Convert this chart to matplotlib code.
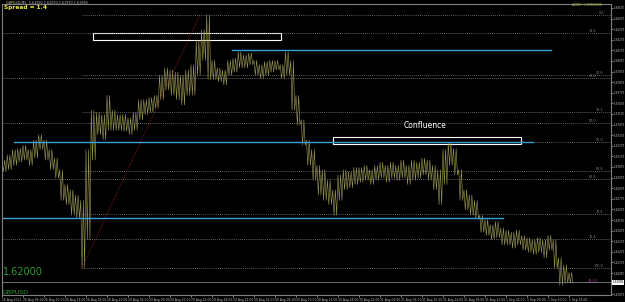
import numpy as np
import matplotlib.pyplot as plt

# GBPUSD hourly high / low, trading hours counted from 26 Aug 02:00
hours = np.arange(109)
highs = [1.6314, 1.6319, 1.6324, 1.6325, 1.6328, 1.6324, 1.6333, 1.6338, 1.6333, 1.6324,
         1.6316, 1.6305, 1.6291, 1.6286, 1.6281, 1.6276, 1.6324, 1.6361, 1.6359, 1.6357,
         1.6375, 1.6361, 1.6357, 1.6357, 1.6354, 1.6359, 1.6371, 1.6371, 1.6373, 1.6375,
         1.6394, 1.6401, 1.6399, 1.6397, 1.6394, 1.6399, 1.6404, 1.6427, 1.6437, 1.6451,
         1.6408, 1.6401, 1.6399, 1.6408, 1.6410, 1.6416, 1.6413, 1.6415, 1.6408, 1.6404,
         1.6407, 1.6408, 1.6408, 1.6404, 1.6416, 1.6408, 1.6375, 1.6352, 1.6333, 1.6324,
         1.6309, 1.6305, 1.6295, 1.6286, 1.6300, 1.6305, 1.6303, 1.6307, 1.6307, 1.6309,
         1.6305, 1.6309, 1.6312, 1.6309, 1.6312, 1.6309, 1.6314, 1.6309, 1.6314, 1.6312,
         1.6316, 1.6314, 1.6309, 1.6305, 1.6324, 1.6331, 1.6325, 1.6305, 1.6286, 1.6281,
         1.6276, 1.6262, 1.6258, 1.6253, 1.6256, 1.6250, 1.6248, 1.6246, 1.6248, 1.6243,
         1.6241, 1.6239, 1.6241, 1.6239, 1.6243, 1.6239, 1.6222, 1.6215, 1.6208]
lows = [1.6303, 1.6305, 1.6309, 1.6312, 1.6314, 1.6309, 1.6316, 1.6324, 1.6314, 1.6305,
        1.6297, 1.6276, 1.6272, 1.6262, 1.6259, 1.6212, 1.6239, 1.6314, 1.6338, 1.6333,
        1.6342, 1.6342, 1.6342, 1.6341, 1.6338, 1.6342, 1.6352, 1.6357, 1.6359, 1.6363,
        1.6371, 1.6380, 1.6375, 1.6371, 1.6366, 1.6375, 1.6375, 1.6394, 1.6408, 1.6390,
        1.6390, 1.6388, 1.6385, 1.6394, 1.6397, 1.6401, 1.6401, 1.6404, 1.6394, 1.6391,
        1.6394, 1.6397, 1.6399, 1.6391, 1.6394, 1.6361, 1.6347, 1.6328, 1.6309, 1.6295,
        1.6281, 1.6276, 1.6272, 1.6262, 1.6276, 1.6286, 1.6288, 1.6291, 1.6293, 1.6295,
        1.6291, 1.6295, 1.6297, 1.6293, 1.6297, 1.6295, 1.6297, 1.6291, 1.6295, 1.6297,
        1.6300, 1.6295, 1.6286, 1.6272, 1.6291, 1.6309, 1.6300, 1.6276, 1.6267, 1.6262,
        1.6259, 1.6246, 1.6243, 1.6239, 1.6241, 1.6234, 1.6234, 1.6231, 1.6234, 1.6229,
        1.6227, 1.6225, 1.6227, 1.6222, 1.6229, 1.6212, 1.6196, 1.6198, 1.6198]

time_ticks = list(range(0, 112, 4))
time_labels = ['26 Aug 2011', '26 Aug 06:00', '26 Aug 10:00', '26 Aug 14:00', '26 Aug 18:00',
               '26 Aug 22:00', '29 Aug 02:00', '29 Aug 06:00', '29 Aug 10:00', '29 Aug 14:00',
               '29 Aug 18:00', '29 Aug 22:00', '30 Aug 02:00', '30 Aug 06:00', '30 Aug 10:00',
               '30 Aug 14:00', '30 Aug 18:00', '30 Aug 22:00', '31 Aug 02:00', '31 Aug 06:00',
               '31 Aug 10:00', '31 Aug 14:00', '31 Aug 18:00', '31 Aug 22:00', '1 Sep 02:00',
               '1 Sep 06:00', '1 Sep 10:00', '1 Sep 14:00']

# fibonacci drawn from the 26 Aug low to the 29 Aug high
fib_start = (15.2, 1.6212)
fib_end = (37.7, 1.6451)
fib_levels = [0.0, 23.6, 38.2, 50.0, 61.8, 78.6, 100.0]

# second set of dotted levels (anchored off screen)
other_prices = [1.6434, 1.6391, 1.6349, 1.6296, 1.6240]
other_labels = ['11.8', '38.2', '50.0', '61.8', '76.4']

# blue support / resistance lines: start hour, end hour, price
blue_lines = [(43.8, 104.6, 1.6418), (2.3, 101.1, 1.6331), (-0.4, 95.4, 1.6259)]
# white boxes: start hour, end hour, low, high
boxes = [(17.3, 53.1, 1.6427, 1.6434), (63.0, 98.9, 1.6329, 1.6336)]

bid = 1.61990
price_ticks = [1.61875] + [round(1.62075 + 0.001 * k, 5) for k in range(26)]
bar_color = '#a09d55'
grey = '#808080'

fig = plt.figure(figsize=(6.25, 3.02), dpi=100, facecolor='black')
ax = fig.add_axes([2 / 625, 1 - 295 / 302, 609 / 625, 291 / 302])
ax.set_facecolor('black')
ax.set_xlim(0, 116)
ax.set_ylim(1.61868, 1.64612)

# price bars drawn as a dense zig-zag between each hour's high and low
xs, ys = [], []
for t, h, l in zip(hours, highs, lows):
    xs += [t, t + 0.25, t + 0.5, t + 0.75]
    ys += [h, l, h, l]
ax.plot(xs, ys, color=bar_color, lw=0.4)

# fibonacci
ax.plot([fib_start[0], fib_end[0]], [fib_start[1], fib_end[1]], color='#b22222',
        ls=(0, (1, 1.5)), lw=0.6)
rng = fib_end[1] - fib_start[1]
for lv in fib_levels:
    p = fib_end[1] - rng * lv / 100
    ax.plot([fib_start[0], 116], [p, p], color=grey, ls=(0, (1, 1.5)), lw=0.6)
    ax.text(114.6, p, f'{lv:.1f}', color=grey, fontsize=2.4, ha='right', va='bottom')

for p, lab in zip(other_prices, other_labels):
    ax.axhline(p, color=grey, ls=(0, (1, 1.5)), lw=0.6)
    ax.text(113.2, p, lab, color=grey, fontsize=2.4, ha='right', va='bottom')

for x0, x1, p in blue_lines:
    ax.plot([x0, x1], [p, p], color='#3a9fd8', lw=1.0)

for x0, x1, lo, hi in boxes:
    ax.add_patch(plt.Rectangle((x0, lo), x1 - x0, hi - lo, fill=False, ec='white', lw=0.8))

ax.text(80.6, 1.6342, 'Confluence', color='white', fontsize=5.5, ha='center', va='bottom')

# bid line
ax.axhline(bid, color=grey, lw=0.6)
ax.annotate(f'{bid:.5f}', xy=(1.0, bid), xycoords=('axes fraction', 'data'),
            xytext=(1.0, 0), textcoords='offset points', fontsize=2.0, color='black',
            va='center', ha='left', annotation_clip=False,
            bbox=dict(boxstyle='square,pad=0.2', fc='white', ec='none'))
ax.text(113.5, 1.6200, '43:15', color='#a030a0', fontsize=2.6, ha='right', va='center')

# axes styling
for s in ax.spines.values():
    s.set_color(grey)
    s.set_linewidth(0.8)
ax.yaxis.tick_right()
ax.set_yticks(price_ticks)
ax.yaxis.set_major_formatter(plt.FormatStrFormatter('%.5f'))
ax.tick_params(axis='y', colors='#c0c0c0', labelsize=2.0, length=1.5, width=0.5, pad=0.5)
ax.set_xticks(time_ticks)
ax.set_xticklabels(time_labels, ha='left')
ax.tick_params(axis='x', colors='#c0c0c0', labelsize=2.2, length=1.5, width=0.5, pad=0.5)

ax.text(0.2, 1.6204, '1.62000', color='#2f9a2f', fontsize=7, ha='left', va='bottom')
ax.text(0.2, 1.6187, 'GBPUSD', color='#2f9a2f', fontsize=4.5, ha='left', va='bottom')

fig.text(6 / 625, 1 - 3 / 302, 'GBPUSD,M5  1.61990 1.62010 1.61970 1.61990',
         color='#c0c0c0', fontsize=2.4, va='center', ha='left')
fig.text(4 / 625, 1 - 8 / 302, 'Spread = 1.4', color='#e8e840', fontsize=4.2,
         fontweight='bold', va='center', ha='left')
fig.text(603 / 625, 1 - 5 / 302, 'A.DBP+SOMEBRIE', color='#a8b040', fontsize=2.4,
         va='center', ha='right')

plt.savefig('out.png', dpi=100, facecolor='black')
